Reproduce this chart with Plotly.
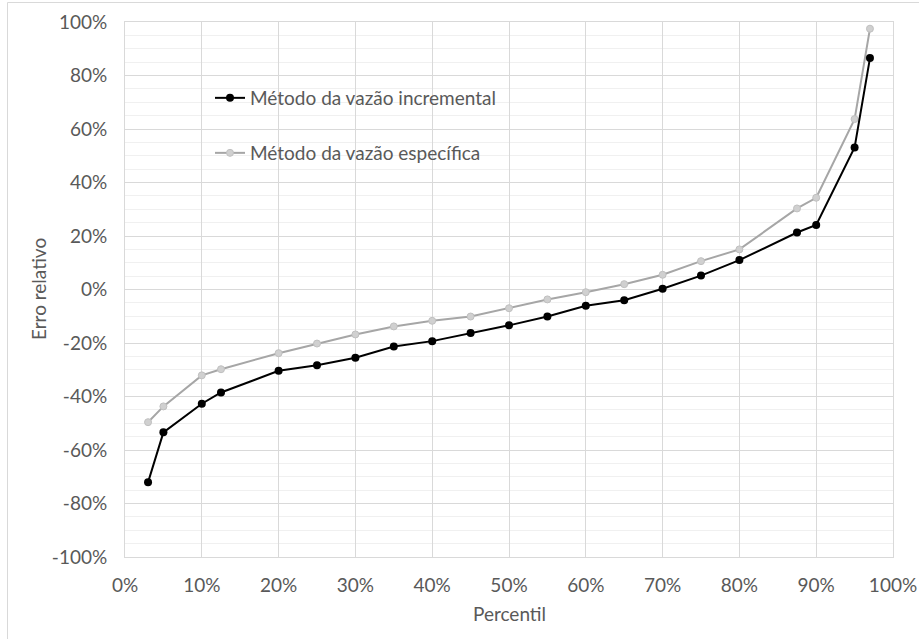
import plotly.graph_objects as go

percentil = [0.03, 0.05, 0.10, 0.125, 0.20, 0.25, 0.30, 0.35, 0.40, 0.45, 0.50,
             0.55, 0.60, 0.65, 0.70, 0.75, 0.80, 0.875, 0.90, 0.95, 0.97]
erro_incremental = [-0.721, -0.534, -0.427, -0.385, -0.304, -0.283, -0.255, -0.213,
                    -0.193, -0.163, -0.134, -0.101, -0.061, -0.040, 0.003, 0.052,
                    0.110, 0.213, 0.241, 0.531, 0.865]
erro_especifica = [-0.496, -0.437, -0.321, -0.298, -0.238, -0.202, -0.168, -0.138,
                   -0.117, -0.101, -0.070, -0.037, -0.010, 0.020, 0.055, 0.106,
                   0.150, 0.303, 0.343, 0.637, 0.975]
nome_incremental = "Método da vazão incremental"
nome_especifica = "Método da vazão específica"

x_tickvals = [0.0, 0.1, 0.2, 0.3, 0.4, 0.5, 0.6, 0.7, 0.8, 0.9, 1.0]
x_ticktext = ["0%", "10%", "20%", "30%", "40%", "50%", "60%", "70%", "80%", "90%", "100%"]
y_tickvals = [-1.0, -0.8, -0.6, -0.4, -0.2, 0.0, 0.2, 0.4, 0.6, 0.8, 1.0]
y_ticktext = ["-100%", "-80%", "-60%", "-40%", "-20%", "0%", "20%", "40%", "60%", "80%", "100%"]
x_title = "Percentil"
y_title = "Erro relativo"

FONT = "Lato, 'Open Sans', sans-serif"
FS = 19
TXT = "#595959"
W, H = 919, 639
L, R, T, B = 125, 26, 22, 82
pw, ph = W - L - R, H - T - B

def px_x(x):
    return (x - L) / pw

def px_y(y):
    return (H - B - y) / ph

fig = go.Figure()
fig.add_trace(go.Scatter(
    x=percentil, y=erro_especifica, name=nome_especifica, mode="lines+markers",
    line=dict(color="#a6a6a6", width=2),
    marker=dict(size=7, color="#d0d0d0", line=dict(color="#c0c0c0", width=1)),
    legend="legend2",
))
fig.add_trace(go.Scatter(
    x=percentil, y=erro_incremental, name=nome_incremental, mode="lines+markers",
    line=dict(color="#000000", width=2),
    marker=dict(size=8, color="#000000"),
    legend="legend",
))

legend_common = dict(
    bgcolor="rgba(0,0,0,0)", borderwidth=0,
    font=dict(family=FONT, size=FS, color=TXT),
    xanchor="left", yanchor="middle", itemwidth=30,
)

fig.update_layout(
    width=W, height=H,
    margin=dict(l=L, r=R, t=T, b=B, autoexpand=False),
    paper_bgcolor="white", plot_bgcolor="white",
    font=dict(family=FONT, size=FS, color=TXT),
    showlegend=True,
    legend=dict(x=px_x(210), y=px_y(98), **legend_common),
    legend2=dict(x=px_x(210), y=px_y(153), **legend_common),
    xaxis=dict(
        range=[0, 1], tickvals=x_tickvals, ticktext=x_ticktext,
        showgrid=True, gridcolor="#d9d9d9", gridwidth=1,
        showline=True, linecolor="#d9d9d9", linewidth=1, mirror=True,
        zeroline=False, ticks="outside", ticklen=11, tickcolor="rgba(0,0,0,0)",
        tickfont=dict(family=FONT, size=FS, color=TXT), automargin=False,
    ),
    yaxis=dict(
        range=[-1, 1], tickvals=y_tickvals, ticktext=y_ticktext,
        showgrid=True, gridcolor="#d9d9d9", gridwidth=1,
        minor=dict(dtick=0.05, tick0=0, showgrid=True, gridcolor="#f0f0f0", gridwidth=1),
        showline=True, linecolor="#d9d9d9", linewidth=1, mirror=True,
        zeroline=False, ticks="outside", ticklen=13, tickcolor="rgba(0,0,0,0)",
        tickfont=dict(family=FONT, size=FS, color=TXT), automargin=False,
    ),
    annotations=[
        dict(text=x_title, xref="paper", yref="paper", x=px_x(509), y=px_y(613),
             xanchor="center", yanchor="middle", showarrow=False,
             font=dict(family=FONT, size=FS, color=TXT)),
        dict(text=y_title, xref="paper", yref="paper", x=px_x(38), y=px_y(289),
             xanchor="center", yanchor="middle", showarrow=False, textangle=-90,
             font=dict(family=FONT, size=FS, color=TXT)),
    ],
    shapes=[
        dict(type="rect", xref="paper", yref="paper",
             x0=px_x(183), x1=px_x(535), y0=px_y(181), y1=px_y(70),
             fillcolor="white", line=dict(width=0), layer="between"),
        dict(type="line", xref="paper", yref="paper",
             x0=px_x(7.5), x1=px_x(7.5), y0=px_y(H + 5), y1=px_y(2.5),
             line=dict(color="#d9d9d9", width=1)),
        dict(type="line", xref="paper", yref="paper",
             x0=px_x(7.5), x1=px_x(W + 5), y0=px_y(2.5), y1=px_y(2.5),
             line=dict(color="#d9d9d9", width=1)),
    ],
)

fig.write_html(
    "out.html",
    config={"displayModeBar": False},
    post_script="document.body.style.margin='0';document.body.style.overflow='hidden';",
)
